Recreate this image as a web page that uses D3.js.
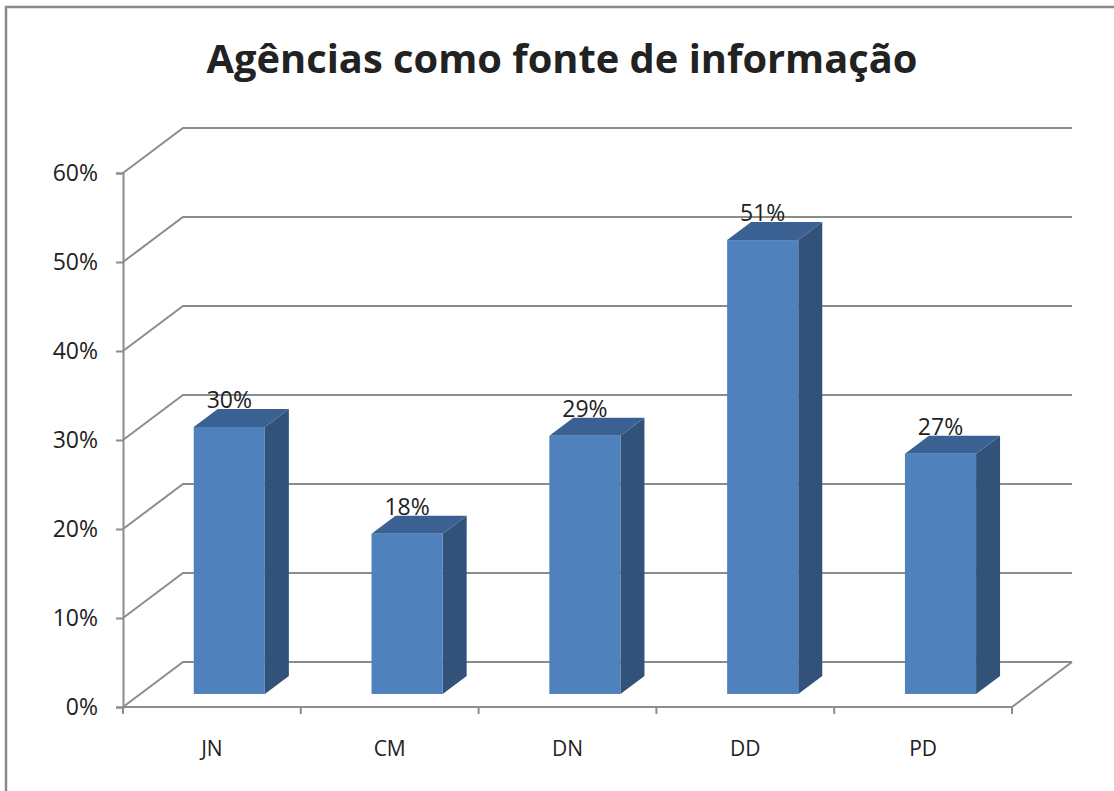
<!DOCTYPE html>
<html>
<head>
<meta charset="utf-8">
<script src="https://cdn.jsdelivr.net/npm/d3@7"></script>
<style>
  body { margin: 0; background: #fff; }
  text { font-family: "Open Sans", "Liberation Sans", sans-serif; fill: #222; }
</style>
</head>
<body>
<div class="canva"></div>
<script>
// data
const categories = ["JN", "CM", "DN", "DD", "PD"];
const values = [0.30, 0.18, 0.29, 0.51, 0.27];
const yTicks = [0, 0.1, 0.2, 0.3, 0.4, 0.5, 0.6];
const title = "Agências como fonte de informação";

const width = 1114, height = 791;

const svg = d3.select(".canva").append("svg")
    .attr("width", width)
    .attr("height", height);

// front plane of the 3d box, and the depth vector to the back wall
const plot = {left: 123, right: 1012, top: 173, bottom: 707};
const depth = {dx: 60, dy: -45};
const barFront = 0.29, barBack = 0.69;   // bar position inside the depth

const gridColor = "#8c8c8c";
const front = "#4f81bd", side = "#32527a", topc = "#3b6192";

// outer chart frame (right and bottom edges are cut off in the picture)
svg.append("rect")
    .attr("x", 6).attr("y", 7)
    .attr("width", 1130).attr("height", 820)
    .attr("fill", "none")
    .attr("stroke", "#8a8a8a")
    .attr("stroke-width", 2.5);

const y = d3.scaleLinear().domain([0, 0.6]).range([plot.bottom, plot.top]);
const x = d3.scaleBand().domain(categories)
    .range([plot.left, plot.right])
    .paddingInner(0.6).paddingOuter(0.3);

// gridlines: side wall diagonal + back wall
const grid = svg.append("g")
    .attr("stroke", gridColor)
    .attr("stroke-width", 2)
    .attr("fill", "none");

grid.selectAll("path.grid")
    .data(yTicks)
    .enter()
    .append("path")
    .attr("class", "grid")
    .attr("d", d => `M${plot.left},${y(d)} L${plot.left + depth.dx},${y(d) + depth.dy} L${plot.right + depth.dx},${y(d) + depth.dy}`);

// floor front edge and right edge
grid.append("path")
    .attr("d", `M${plot.left},${plot.bottom} L${plot.right},${plot.bottom} L${plot.right + depth.dx},${plot.bottom + depth.dy}`);

// y axis
const yAxis = d3.axisLeft(y)
    .tickValues(yTicks)
    .tickFormat(d3.format(".0%"))
    .tickSize(7)
    .tickPadding(18);

const ya = svg.append("g")
    .attr("transform", `translate(${plot.left},0)`)
    .call(yAxis);
ya.select(".domain").attr("stroke", gridColor).attr("stroke-width", 2);
ya.selectAll(".tick line").attr("stroke", gridColor).attr("stroke-width", 2);
ya.selectAll(".tick text")
    .attr("font-size", 23)
    .attr("font-family", null)
    .attr("fill", "#222");

// x axis: labels at category centres, ticks at boundaries
const xAxis = d3.axisBottom(x).tickSize(0).tickPadding(34);
const xa = svg.append("g")
    .attr("transform", `translate(0,${plot.bottom})`)
    .call(xAxis);
xa.select(".domain").remove();
xa.selectAll(".tick text")
    .attr("font-size", 21)
    .attr("font-family", null)
    .attr("fill", "#222");

const bounds = d3.range(categories.length + 1).map(i => plot.left + i * x.step());
svg.append("g")
    .selectAll("line")
    .data(bounds)
    .enter()
    .append("line")
    .attr("x1", d => d).attr("x2", d => d)
    .attr("y1", plot.bottom).attr("y2", plot.bottom + 7)
    .attr("stroke", gridColor)
    .attr("stroke-width", 2);

// 3d columns
const bars = categories.map((c, i) => {
    const x0 = x(c) + depth.dx * barFront;
    const x1 = x0 + x.bandwidth();
    const yb = y(0) + depth.dy * barFront;
    const yt = y(values[i]) + depth.dy * barFront;
    const ddx = depth.dx * (barBack - barFront), ddy = depth.dy * (barBack - barFront);
    return {c, v: values[i], x0, x1, yb, yt, ddx, ddy};
});

const g = svg.selectAll("g.bar")
    .data(bars)
    .enter()
    .append("g")
    .attr("class", "bar");

g.append("path")
    .attr("fill", side)
    .attr("d", d => `M${d.x1},${d.yb} L${d.x1 + d.ddx},${d.yb + d.ddy} L${d.x1 + d.ddx},${d.yt + d.ddy} L${d.x1},${d.yt} Z`);

g.append("path")
    .attr("fill", topc)
    .attr("d", d => `M${d.x0},${d.yt} L${d.x0 + d.ddx},${d.yt + d.ddy} L${d.x1 + d.ddx},${d.yt + d.ddy} L${d.x1},${d.yt} Z`);

g.append("rect")
    .attr("fill", front)
    .attr("x", d => d.x0)
    .attr("y", d => d.yt)
    .attr("width", d => d.x1 - d.x0)
    .attr("height", d => d.yb - d.yt);

g.append("text")
    .attr("x", d => (d.x0 + d.x1) / 2)
    .attr("y", d => d.yt + d.ddy - 1)
    .attr("text-anchor", "middle")
    .attr("font-size", 23)
    .text(d => d3.format(".0%")(d.v));

// title, sized to the width it takes in the picture
const t = svg.append("text")
    .attr("x", 562)
    .attr("y", 73)
    .attr("text-anchor", "middle")
    .attr("font-weight", "bold")
    .attr("font-size", 38)
    .attr("fill", "#000")
    .text(title);
const tw = t.node().getComputedTextLength();
t.attr("font-size", 38 * 711 / tw);
</script>
</body>
</html>
